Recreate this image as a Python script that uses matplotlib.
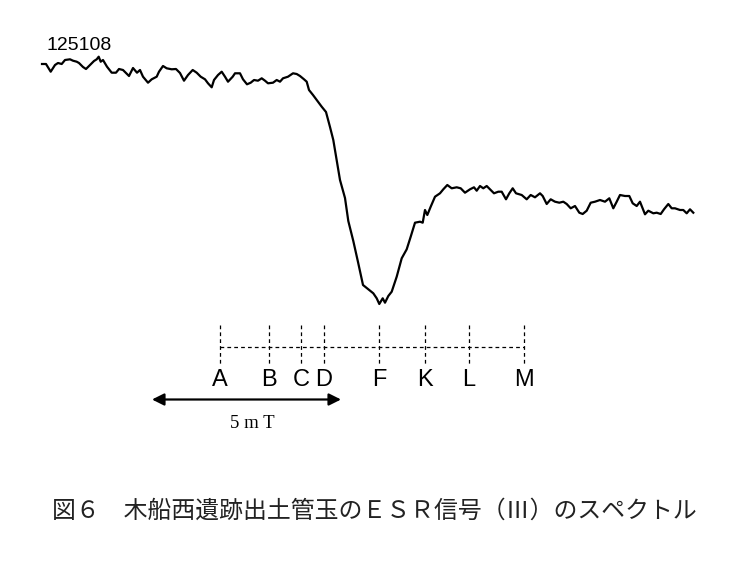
import matplotlib
matplotlib.use("Agg")
import matplotlib.pyplot as plt

# ESR trace (chart position, pen deflection)
trace_x = [42, 46, 50.7, 55, 58, 61.7, 65, 70, 73, 76.7, 79, 83, 86, 90, 94, 96.7,
           98.7, 100.7, 103, 107, 111.7, 116, 119, 123, 129, 133, 137, 140, 143, 148,
           151.7, 156.7, 159, 163, 166.7, 171.7, 176, 180, 184, 188, 192.7, 196.7,
           200.7, 205, 208, 211.7, 214, 218, 221.7, 225, 228, 232.7, 235, 240, 243,
           247, 250.7, 254, 258, 261.7, 265, 268, 273, 276.7, 280, 283, 288, 293,
           296.7, 300, 304, 306.7, 309, 313, 318, 321.7, 326, 330, 333.3, 336.7, 340,
           345, 348.3, 353.3, 358, 363, 368.3, 373.3, 376.7, 379.3, 382.7, 385, 388.3,
           391.7, 396.7, 401.7, 406.7, 410.7, 415, 420, 422.7, 425, 427.3, 430.7, 435,
           440, 443.3, 447.3, 451.7, 456.7, 460.7, 465, 470, 474, 476.7, 480, 483.3,
           486.7, 490.7, 494, 498.3, 501.7, 506, 509.3, 512.7, 516, 521.7, 526.7, 530.7,
           535, 540, 542.7, 546.7, 550.7, 555, 559.3, 563.3, 566.7, 570.7, 575, 579.3,
           582.7, 586.7, 590.7, 595, 600, 605, 609.3, 613.3, 616.7, 620, 625, 629.3,
           632.7, 636.7, 640, 645, 648.3, 653.3, 656.7, 660.7, 664, 668.3, 671.7, 675,
           680, 683.3, 686.7, 690, 693.3]
trace_y = [64, 64, 71.7, 65, 63, 64, 60, 59.3, 60.7, 61.7, 63, 67, 69, 65, 61, 59.3,
           56.7, 61.7, 60, 66.7, 72.7, 72.7, 69, 70, 76, 68, 72.7, 70, 76.7, 82.7,
           79.3, 76.7, 71.7, 66, 68.3, 69.3, 69, 73, 80.7, 75, 70, 72.7,
           76.7, 79.3, 83.3, 87.3, 80, 75, 71.7, 76.7, 81.7, 76.7, 73.3, 73.3, 79.3,
           84.3, 82.7, 80, 80.7, 78.3, 80.7, 83.3, 82.7, 80, 81.7, 78.3, 76.7, 73.3,
           74, 76, 79.3, 81.7, 90, 95, 101.7, 106.7, 112, 127, 140, 160, 180,
           198, 221, 241, 262, 285, 289.3, 293.3, 298.3, 304, 298.3, 302.7, 296,
           291.7, 276.7, 258.3, 249.3, 236.7, 222.7, 221.7, 222.7, 210, 215, 206.7, 196.7,
           193.3, 189.3, 185, 188.3, 187.3, 188.3, 192.7, 189.3, 187.3, 190.7, 186, 188.3,
           186, 190, 193.3, 191.7, 191.7, 199.3, 193.3, 188.3, 193.3, 195, 199.3, 195,
           197.3, 193.3, 196, 204, 199.3, 201.7, 202.7, 201.7, 204, 208.3, 206, 212.7,
           214, 210.7, 202.7, 201.7, 200, 201.7, 198.3, 208.3, 201.7, 195, 196, 196,
           203.3, 206, 201.7, 214.3, 210.7, 213.3, 212.7, 214, 209.3, 204, 208.3, 208.3,
           210, 210, 213.3, 209.3, 212.7]

# field markers under the spectrum
marker_labels = ["A", "B", "C", "D", "F", "K", "L", "M"]
marker_pos = [220, 269, 301, 324, 379, 425, 469, 524]

# 5 mT scale bar
scale_start = 152
scale_end = 341
scale_text = "5 m T"

sample_id = "125108"
caption = "図６　木船西遺跡出土管玉のＥＳＲ信号（Ⅲ）のスペクトル"

fig = plt.figure(figsize=(7.36, 5.71), dpi=100)
ax = fig.add_axes([0, 0, 1, 1])
ax.set_xlim(0, 736)
ax.set_ylim(571, 0)
ax.axis("off")

ax.plot(trace_x, trace_y, color="black", lw=1.6, solid_joinstyle="round")

ax.text(47, 54, sample_id, fontsize=14, family=["Liberation Sans Narrow", "Liberation Sans"],
        ha="left", va="bottom")

# dashed marker lines
for p, lab in zip(marker_pos, marker_labels):
    ax.plot([p, p], [325, 365], color="black", lw=0.9, ls=(0, (3, 2.5)))
    ax.text(p, 386, lab, fontsize=17, family="Liberation Sans", ha="center", va="baseline")
ax.plot([marker_pos[0], marker_pos[-1]], [347, 347], color="black", lw=0.9, ls=(0, (3, 2.5)))

ax.annotate("", xy=(scale_start, 399.5), xytext=(scale_end, 399.5),
            arrowprops=dict(arrowstyle="<|-|>", color="black", lw=1.6,
                            mutation_scale=18, shrinkA=0, shrinkB=0))
ax.text(252, 423, scale_text, fontsize=13.5, family="Liberation Serif", ha="center", va="center")

ax.text(374, 511, caption, fontsize=17.2, family=["Noto Sans CJK JP", "DejaVu Sans"],
        ha="center", va="center", color="#222222")

fig.savefig("out.png", dpi=100, facecolor="white")
